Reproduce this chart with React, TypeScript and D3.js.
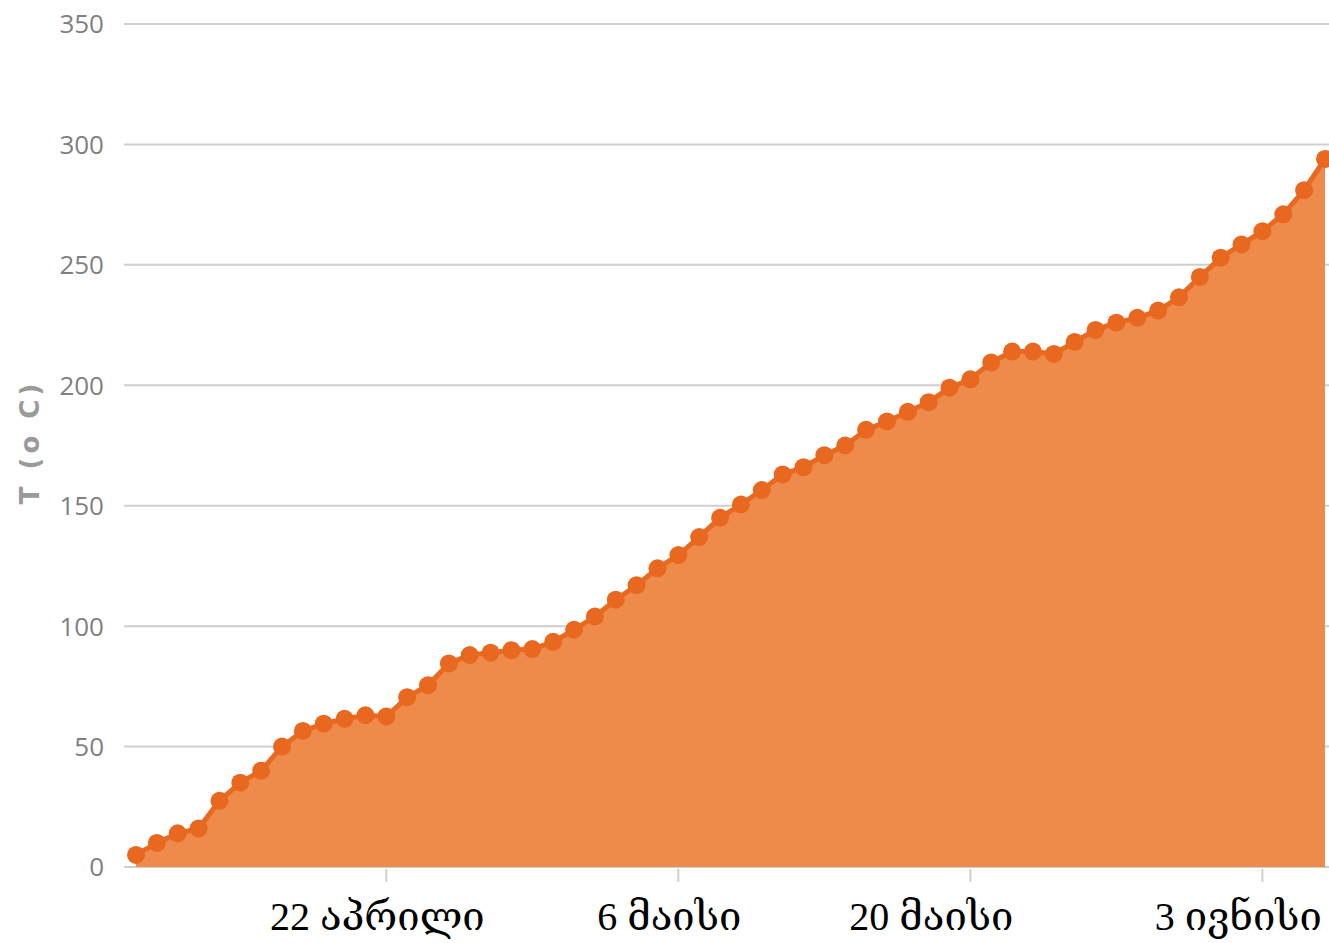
import React, { useEffect, useRef } from "react";
import * as d3 from "d3";

// cumulative temperature sum, one value per day starting 10 April
const startDay = new Date(2014, 3, 10);
const values = [
  5, 10, 14, 16, 27.5, 35, 40, 50, 56.5, 59.5, 61.5, 63, 62.5, 70.5, 75.5, 84.5,
  88, 89, 90, 90.5, 93.5, 98.5, 104, 111, 117, 124, 129.5, 137, 145, 150.5,
  156.5, 163, 166, 171, 175, 181.5, 185, 189, 193, 199, 202.5, 209.5, 214, 214,
  213, 218, 223, 226, 228, 231, 236.5, 245, 253, 258.5, 264, 271, 281, 294,
];
const yTicks = [0, 50, 100, 150, 200, 250, 300, 350];
const xTickDates = [
  new Date(2014, 3, 22),
  new Date(2014, 4, 6),
  new Date(2014, 4, 20),
  new Date(2014, 5, 3),
];
const xTickLabels = ["22 აპრილი", "6 მაისი", "20 მაისი", "3 ივნისი"];
const xLabelShift = [-9, -9, -39, -24];
const yTitle = "T (o C)";

const App = () => {
  const svgRef = useRef<SVGSVGElement>(null);

  useEffect(() => {
    const svg = d3.select(svgRef.current);
    svg.selectAll("*").remove();

    const width = 1329;
    const height = 943;

    const data = values.map((v, i) => ({
      date: d3.timeDay.offset(startDay, i),
      value: v,
    }));

    const x = d3
      .scaleTime()
      .domain(d3.extent(data, (d) => d.date) as [Date, Date])
      .range([136, 1325]);

    const y = d3.scaleLinear().domain([0, 350]).range([867, 24]);

    svg.attr("width", width).attr("height", height).style("background", "#fff");

    // grid lines
    svg
      .append("g")
      .selectAll("line")
      .data(yTicks)
      .join("line")
      .attr("x1", 124)
      .attr("x2", width)
      .attr("y1", (d) => y(d))
      .attr("y2", (d) => y(d))
      .attr("stroke", "#cfcfcf")
      .attr("stroke-width", 2);

    // y labels
    svg
      .append("g")
      .selectAll("text")
      .data(yTicks)
      .join("text")
      .attr("x", 104)
      .attr("y", (d) => y(d))
      .attr("dy", "0.36em")
      .attr("text-anchor", "end")
      .attr("font-family", "'Open Sans', sans-serif")
      .attr("font-size", 26)
      .attr("fill", "#808080")
      .text((d) => d);

    // y title
    svg
      .append("text")
      .attr("transform", `translate(39,442) rotate(-90)`)
      .attr("text-anchor", "middle")
      .attr("font-family", "'DejaVu Sans', sans-serif")
      .attr("font-weight", "bold")
      .attr("font-size", 26)
      .attr("letter-spacing", 4)
      .attr("fill", "#9a9a9a")
      .text(yTitle);

    const area = d3
      .area<{ date: Date; value: number }>()
      .x((d) => x(d.date))
      .y0(y(0))
      .y1((d) => y(d.value));

    const line = d3
      .line<{ date: Date; value: number }>()
      .x((d) => x(d.date))
      .y((d) => y(d.value));

    svg.append("path").datum(data).attr("fill", "#ee8b4b").attr("d", area);

    svg
      .append("path")
      .datum(data)
      .attr("fill", "none")
      .attr("stroke", "#e8691f")
      .attr("stroke-width", 5)
      .attr("d", line);

    svg
      .append("g")
      .selectAll("circle")
      .data(data)
      .join("circle")
      .attr("cx", (d) => x(d.date))
      .attr("cy", (d) => y(d.value))
      .attr("r", 9)
      .attr("fill", "#e8681f");

    // x ticks
    svg
      .append("g")
      .selectAll("line")
      .data(xTickDates)
      .join("line")
      .attr("x1", (d) => x(d))
      .attr("x2", (d) => x(d))
      .attr("y1", 869)
      .attr("y2", 882)
      .attr("stroke", "#cfcfcf")
      .attr("stroke-width", 2);

    // x labels
    svg
      .append("g")
      .selectAll("text")
      .data(xTickDates)
      .join("text")
      .attr("x", (d, i) => x(d) + xLabelShift[i])
      .attr("y", 930)
      .attr("text-anchor", "middle")
      .attr("font-family", "'Liberation Serif', 'DejaVu Serif', serif")
      .attr("font-size", 40)
      .attr("fill", "#000")
      .text((d, i) => xTickLabels[i]);
  }, []);

  return (
    <svg
      ref={svgRef}
      style={{ position: "absolute", left: 0, top: 0, display: "block" }}
    ></svg>
  );
};

export default App;
